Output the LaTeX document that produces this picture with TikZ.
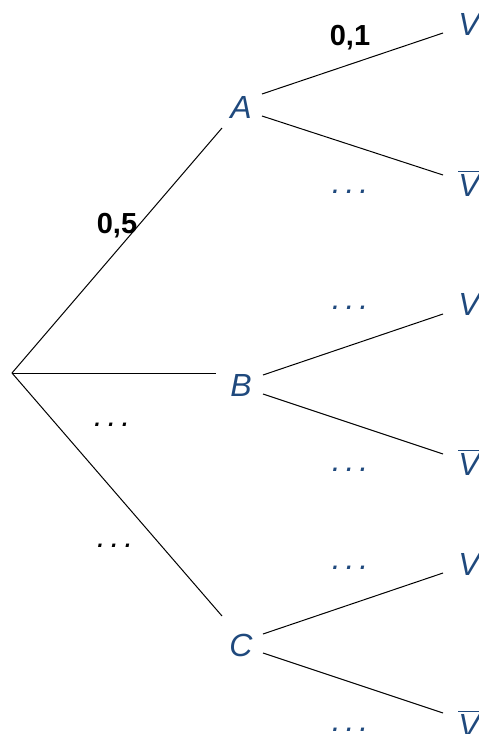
\documentclass[tikz,border=0pt]{standalone}
\usepackage{fontspec}
\setmainfont{Liberation Sans}
\definecolor{evblue}{HTML}{1F497D}
\tikzset{
  ev/.style={text=evblue, font=\fontsize{16}{19}\selectfont\itshape, inner sep=0pt},
  prob/.style={text=black, font=\fontsize{14.5}{17}\selectfont\bfseries, inner sep=0pt},
  gap/.style={font=\fontsize{16}{19}\selectfont\itshape, inner sep=0pt},
  branch/.style={draw=black, line width=0.5pt},
}
\newcommand{\notV}{$\overline{\hbox{\itshape V}}$}
\newcommand{\gapdots}{.\kern2.4pt.\kern2.4pt.}
\begin{document}
\begin{tikzpicture}[x=0.5pt, y=-0.5pt]
\useasboundingbox (0,0) rectangle (478,734);
% first level
\coordinate (root) at (12,373);
\node[ev] (A) at (241,107) {A};
\node[ev] (B) at (241,385) {B};
\node[ev] (C) at (241,645) {C};
\coordinate (Ain) at (222,128);
\coordinate (Bin) at (216,373);
\coordinate (Cin) at (222,616);
\draw[branch] (root) -- (Ain);
\draw[branch] (root) -- (Bin);
\draw[branch] (root) -- (Cin);
% second level leaves
\node[ev] (AV) at (469,24) {V};
\node[ev] (AN) at (469,183) {\notV};
\node[ev] (BV) at (469,304) {V};
\node[ev] (BN) at (469,462) {\notV};
\node[ev] (CV) at (469,564) {V};
\node[ev] (CN) at (469,723) {\notV};
% branch end points
\coordinate (Aup) at (262,94);   \coordinate (AVe) at (443,33);
\coordinate (Adn) at (262,116);  \coordinate (ANe) at (443,175);
\coordinate (Bup) at (263,375);  \coordinate (BVe) at (443,314);
\coordinate (Bdn) at (263,394);  \coordinate (BNe) at (443,454);
\coordinate (Cup) at (263,634);  \coordinate (CVe) at (443,573);
\coordinate (Cdn) at (263,653);  \coordinate (CNe) at (443,713);
\draw[branch] (Aup) -- (AVe);
\draw[branch] (Adn) -- (ANe);
\draw[branch] (Bup) -- (BVe);
\draw[branch] (Bdn) -- (BNe);
\draw[branch] (Cup) -- (CVe);
\draw[branch] (Cdn) -- (CNe);
% probabilities
\node[prob] (pA) at (117,226) {0,5};
\node[prob] (pAV) at (350,38) {0,1};
\node[gap, text=black] (pB) at (112,425) {\gapdots};
\node[gap, text=black] (pC) at (115,546) {\gapdots};
\node[gap, text=evblue] (pAN) at (350,192) {\gapdots};
\node[gap, text=evblue] (pBV) at (350,308) {\gapdots};
\node[gap, text=evblue] (pBN) at (350,470) {\gapdots};
\node[gap, text=evblue] (pCV) at (350,568) {\gapdots};
\node[gap, text=evblue] (pCN) at (350,730) {\gapdots};
\end{tikzpicture}
\end{document}
